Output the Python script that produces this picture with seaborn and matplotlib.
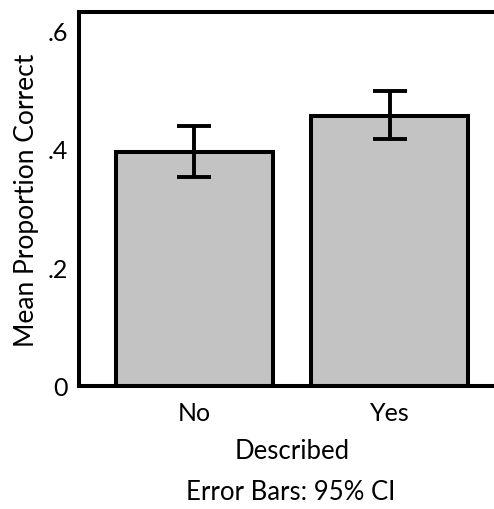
import matplotlib
matplotlib.use("Agg")
import matplotlib.pyplot as plt
import seaborn as sns
import pandas as pd
import numpy as np

categories = ["No", "Yes"]
means = [0.395, 0.456]
ci_low = [0.353, 0.417]
ci_high = [0.439, 0.498]
ytick_vals = [0, 0.2, 0.4, 0.6]
ytick_labels = ["0", ".2", ".4", ".6"]

sns.set_theme(style="white")
plt.rcParams['font.family'] = ['Lato', 'DejaVu Sans']

df = pd.DataFrame({"Described": categories, "Mean": means})

fig = plt.figure(figsize=(4.94, 5.10), dpi=100)
ax = fig.add_axes([79/494, 1 - 387/510, (505 - 79)/494, (387 - 13)/510])

sns.barplot(data=df, x="Described", y="Mean", order=categories, color="#c3c3c3",
            saturation=1, width=0.805, edgecolor="black", linewidth=2.9,
            errorbar=None, ax=ax)

yerr = np.array([[m - l for m, l in zip(means, ci_low)],
                 [h - m for m, h in zip(means, ci_high)]])
ax.errorbar(x=np.arange(len(categories)), y=means, yerr=yerr, fmt="none",
            ecolor="black", elinewidth=2.8, capsize=12, capthick=2.8, zorder=5)

ax.set_xlim(-0.592, 1.592)
ax.set_ylim(0, 0.631)
ax.set_yticks(ytick_vals)
ax.set_yticklabels(ytick_labels)
ax.tick_params(axis="both", length=0, labelsize=18, colors="black")
ax.tick_params(axis="x", pad=11)
ax.tick_params(axis="y", pad=8)
for s in ax.spines.values():
    s.set_linewidth(2.9)
    s.set_color("black")
ax.set_xlabel("Described", fontsize=18.5, color="black", labelpad=10)
ax.set_ylabel("Mean Proportion Correct", fontsize=19, color="black", labelpad=6)

fig.text(291/494, 1 - 493/510, "Error Bars: 95% CI", ha="center", va="center",
         fontsize=18.5, color="black")

fig.savefig("out.png", dpi=100)
